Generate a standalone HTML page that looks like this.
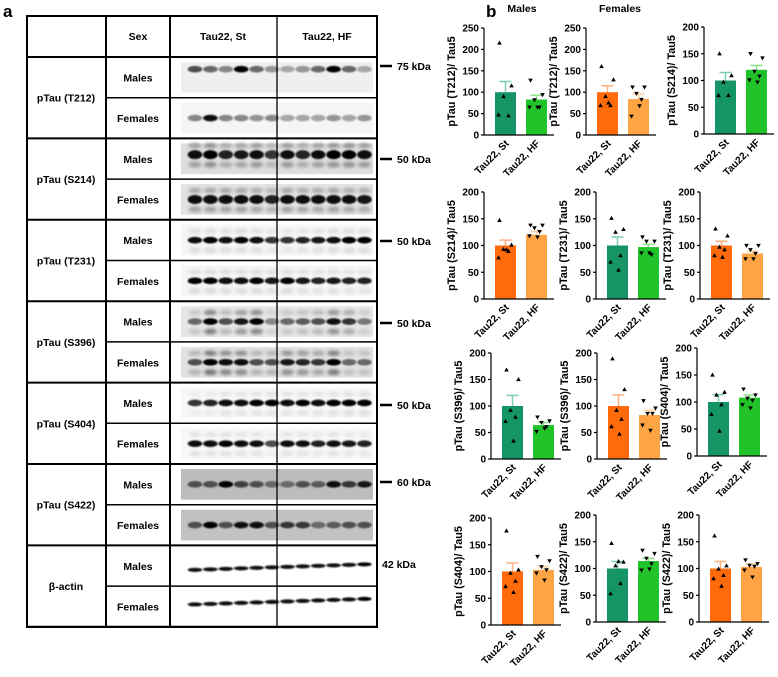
<!DOCTYPE html>
<html><head><meta charset="utf-8">
<style>
html,body{margin:0;padding:0;background:#fff;}
body{width:778px;height:672px;overflow:hidden;font-family:"Liberation Sans",Arial,sans-serif;}
svg text{font-family:"Liberation Sans",Arial,sans-serif;font-weight:bold;}
</style></head>
<body>
<svg id="fig" width="778" height="672" viewBox="0 0 778 672" xmlns="http://www.w3.org/2000/svg">
<defs>
<filter id="blur1" x="-20%" y="-50%" width="140%" height="200%"><feGaussianBlur stdDeviation="0.8"/></filter>
<filter id="blur2" x="-20%" y="-80%" width="140%" height="260%"><feGaussianBlur stdDeviation="1.6"/></filter>
</defs>
<text x="3" y="17" font-size="17">a</text>
<text x="486" y="17" font-size="17">b</text>
<text x="522" y="12" font-size="10.5" text-anchor="middle">Males</text>
<text x="620" y="12" font-size="10.5" text-anchor="middle">Females</text>
<g id="blots"></g>
<g id="table"></g>
<g id="charts"></g>
</svg>
<script>
// ---------- Panel b data ----------
const chartTitles = ["pTau (T212)/ Tau5","pTau (T212)/ Tau5","pTau (S214)/ Tau5",
 "pTau (S214)/ Tau5","pTau (T231)/ Tau5","pTau (T231)/ Tau5",
 "pTau (S396)/ Tau5","pTau (S396)/ Tau5","pTau (S404)/ Tau5",
 "pTau (S404)/ Tau5","pTau (S422)/ Tau5","pTau (S422)/ Tau5"];
const chartSex = ["M","F","M","F","M","F","M","F","M","F","M","F"];
const chartYMax = [250,250,200,200,200,200,200,200,200,200,200,200];
const categories = ["Tau22, St","Tau22, HF"];
const stMeans = [100,100,100,100,100,100,100,100,100,100,100,100];
const hfMeans = [83,84,120,120,97,85,64,83,108,103,114,103];
const stSem = [25,15,15,10,16,8,20,21,14,16,13,13];
const hfSem = [10,12,8,6,5,4,5,9,5,6,5,5];
const stPoints = [[215,115,90,45,47],[160,129,90,69,69,75],[150,109,97,72,72],
 [147,101,93,89,77,92],[151,130,125,81,69,54],[131,118,97,92,81,78],
 [168,150,92,79,71,34],[189,131,92,75,61,47],[150,118,113,95,77,46],
 [176,103,97,82,72,61],[147,112,105,72,53,113],[161,105,99,87,81,67]];
const hfPoints = [[128,94,82,65,65,65],[112,112,97,83,44,68],[150,142,117,108,101,97],
 [138,138,133,126,118,116],[116,108,108,83,86,86],[100,100,92,85,75,75],
 [79,72,69,61,52,58],[110,96,86,86,64,54],[124,113,107,103,95,89],
 [128,120,109,103,97,84],[134,128,119,109,97,99],[116,109,106,104,97,84]];

// layout (not data)
const axisXs = [484,586,704, 484,596,700, 491,597,697, 491,596,699];
const axisY0 = [135,135,134, 299,299,299, 459,459,456, 625,622,622];
const axisYTop = [28,28,27, 192,192,192, 353,353,348, 518,515,515];
const jitter = [-6,6,-2,3,-7,1,7,-4];

const colors = {M:["#159466","#22c22a"],F:["#ff6a0a","#ffa444"]};
const errColors = {M:["#7fd0b0","#8fe08a"],F:["#ffb080","#ffd0a0"]};
const NS = "http://www.w3.org/2000/svg";
function mk(tag, attrs, parent){const e=document.createElementNS(NS,tag);for(const k in attrs)e.setAttribute(k,attrs[k]);parent.appendChild(e);return e;}

const chartsG = document.getElementById('charts');
for(let c=0;c<12;c++){
  const g = mk('g',{},chartsG);
  
  
  const ax = axisXs[c], y0 = axisY0[c], yt = axisYTop[c], ymax = chartYMax[c];
  const yS = v => y0 - v/ymax*(y0-yt);
  const barX = [ax+11, ax+42], bw = 21;
  const means=[stMeans[c],hfMeans[c]], sems=[stSem[c],hfSem[c]], pts=[stPoints[c],hfPoints[c]];
  const sx = chartSex[c];
  for(let b=0;b<2;b++){
    const bar = mk('rect',{x:barX[b],y:yS(means[b]),width:bw,height:y0-yS(means[b]),fill:colors[sx][b]},g);
    
    
    const cx = barX[b]+bw/2;
    const err = mk('path',{d:`M${cx},${yS(means[b])}V${yS(means[b]+sems[b])}M${cx-6},${yS(means[b]+sems[b])}H${cx+6}`,stroke:errColors[sx][b],'stroke-width':1.5,fill:'none'},g);
    
    
    pts[b].forEach((v,i)=>{
      const px = cx + jitter[i%jitter.length], py = yS(v);
      const d = b===0 ? `M${px},${py-2.5}L${px+2.3},${py+1.6}L${px-2.3},${py+1.6}Z` : `M${px},${py+2.5}L${px+2.3},${py-1.6}L${px-2.3},${py-1.6}Z`;
      const p = mk('path',{d:d,fill:'#000'},g);
      
      
    });
    const t = mk('text',{x:0,y:0,'font-size':10,'text-anchor':'end',transform:`translate(${cx+4},${y0+9}) rotate(-45)`},g);
    t.textContent = categories[b];
    
    
  }
  const axis = mk('path',{d:`M${ax},${yt}V${y0}H${ax+70}`,stroke:'#000','stroke-width':1.2,fill:'none'},g);
  
  
  for(let v=0; v<=ymax; v+=50){
    const tk = mk('line',{x1:ax-3,x2:ax,y1:yS(v),y2:yS(v),stroke:'#000','stroke-width':1.2},g);
    
    
    const tl = mk('text',{x:ax-5,y:yS(v)+3.5,'font-size':10,'text-anchor':'end'},g);
    tl.textContent = v;
    
    
  }
  const yt2 = mk('text',{x:0,y:0,'font-size':10.8,'text-anchor':'middle',transform:`translate(${ax-29},${(y0+yt)/2}) rotate(-90)`},g);
  yt2.textContent = chartTitles[c];
  
  
}

// ---------- Panel a: table ----------
const rowTop = 57, rowH = 40.7;
const targets = ["pTau (T212)","pTau (S214)","pTau (T231)","pTau (S396)","pTau (S404)","pTau (S422)","β-actin"];
const kda = ["75 kDa","50 kDa","50 kDa","50 kDa","50 kDa","60 kDa","42 kDa"];
const kdaY = [67,160,242,324,406,483,565];
const tableG = document.getElementById('table');
function line(x1,y1,x2,y2,w){return mk('line',{x1,y1,x2,y2,stroke:'#000','stroke-width':w},tableG);}
mk('rect',{x:27,y:16,width:350,height:611,fill:'none',stroke:'#000','stroke-width':2},tableG);
line(106,16,106,627,2); line(170,16,170,627,2); line(277,16,277,627,1.3);
line(27,57,377,57,2);
[["Sex",138],["Tau22, St",223],["Tau22, HF",327]].forEach(([s,x])=>{
  const t=mk('text',{x:x,y:40,'font-size':10.5,'text-anchor':'middle'},tableG);t.textContent=s;
  
  
});
for(let gI=0; gI<7; gI++){
  const top = rowTop + gI*2*rowH;
  line(27,top+2*rowH,377,top+2*rowH,2);
  line(106,top+rowH,377,top+rowH,1.5);
  const tt=mk('text',{x:66,y:top+rowH+4,'font-size':10.5,'text-anchor':'middle'},tableG);tt.textContent=targets[gI];
  
  
  ["Males","Females"].forEach((s,k)=>{
    const t=mk('text',{x:138,y:top+k*rowH+rowH/2+4,'font-size':10.5,'text-anchor':'middle'},tableG);t.textContent=s;
    
    
  });
  if(gI<6){line(380,kdaY[gI]-1,392,kdaY[gI]-1,2.5);}
  const kt=mk('text',{x:gI<6?397:382,y:kdaY[gI]+3,'font-size':10.5},tableG);kt.textContent=kda[gI];
  
  
}

// ---------- Panel a: blots ----------
const blotIntensity = [
 [0.55,0.45,0.35,1,0.45,0.3,0.25,0.3,0.45,0.95,0.45,0.25],
 [0.35,0.9,0.35,0.35,0.3,0.35,0.25,0.25,0.25,0.3,0.25,0.3],
 [0.85,1,0.75,0.8,0.9,0.65,0.9,0.75,0.85,0.95,0.95,0.9],
 [0.9,0.9,0.9,0.9,0.85,0.75,0.9,0.85,0.85,0.9,0.85,0.8],
 [0.85,0.95,0.85,0.95,0.85,0.65,0.65,0.75,0.8,0.9,0.95,0.95],
 [0.95,0.95,0.9,0.9,0.95,0.8,0.95,0.8,0.75,0.8,0.75,0.75],
 [0.45,1,0.55,0.8,0.95,0.35,0.45,0.5,0.55,0.85,0.65,0.4],
 [0.55,1,0.85,0.85,0.55,0.55,0.8,0.75,0.65,0.95,0.45,0.45],
 [0.65,0.75,0.9,0.9,0.95,0.95,0.9,0.95,0.9,0.95,1,1],
 [0.9,0.9,0.95,0.9,0.9,0.55,0.9,0.85,0.75,0.9,0.8,0.75],
 [0.55,0.55,0.95,0.6,0.55,0.45,0.45,0.55,0.5,0.9,0.65,0.8],
 [0.55,1,0.55,0.85,0.9,0.55,0.65,0.65,0.45,0.5,0.55,0.55],
 [0.9,0.9,0.9,0.9,0.9,0.9,0.9,0.9,0.9,0.9,0.9,0.95],
 [0.9,0.9,0.9,0.9,0.9,0.9,0.9,0.9,0.9,0.9,0.9,0.95]];
const blotBg = ["#efefef","#f5f5f5","#dedede","#e2e2e2","#f6f6f6","#f6f6f6","#e6e6e6","#e2e2e2","#f8f8f8","#f8f8f8","#bdbdbd","#c2c2c2","#fff","#fff"];
const bandOff = [0.3,0.5,0.4,0.5,0.5,0.5,0.5,0.5,0.5,0.5,0.5,0.5,0.6,0.45];
const secondary = [0,0,0.45,0.4,0.15,0.15,0.5,0.55,0.12,0.12,0,0,0,0];
const blotsG = document.getElementById('blots');
for(let r=0;r<14;r++){
  const top = rowTop + r*rowH;
  const bg = mk('rect',{x:181,y:top+5,width:192,height:rowH-10,fill:blotBg[r]},blotsG);
  
  
  blotIntensity[r].forEach((v,i)=>{
    const cx = 195 + i*15.4, cy = top + rowH*bandOff[r] - (r>=12 ? i*0.5 : 0);
    if(secondary[r]>0){
      const s = v*secondary[r]; const g2 = Math.round(255*(1-s));
      const sb = mk('ellipse',{cx:cx,cy:cy+10,rx:6.5,ry:3,fill:`rgb(${g2},${g2},${g2})`,filter:'url(#blur2)'},blotsG);
      
      
      const sb2 = mk('ellipse',{cx:cx,cy:cy-9,rx:6.5,ry:2.5,fill:`rgb(${g2},${g2},${g2})`,filter:'url(#blur2)'},blotsG);
      
      
    }
    const g = Math.round(255*Math.pow(1-v,1.5));
    const band = mk('ellipse',{cx:cx,cy:cy,rx:7.3,ry:r>=12?2:(r>=2&&r<=3?4.5:3.3),fill:`rgb(${g},${g},${g})`,filter:'url(#blur1)'},blotsG);
    
    
  });
}
</script>
</body></html>
